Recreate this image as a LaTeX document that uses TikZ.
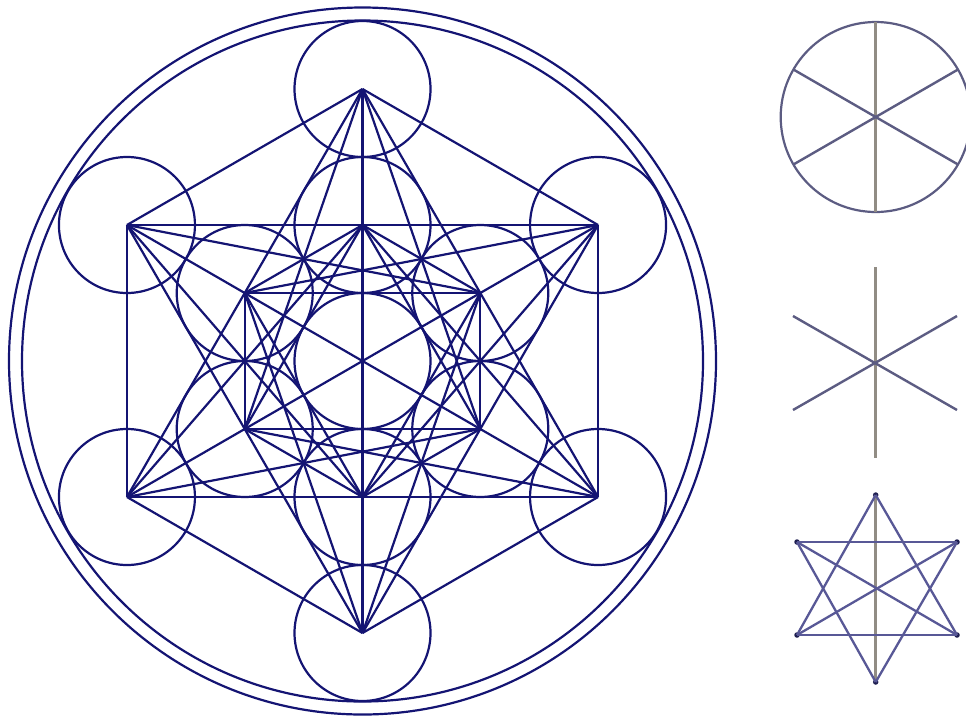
\documentclass[tikz,border=0pt]{standalone}
\usetikzlibrary{calc}
\definecolor{cubeblue}{RGB}{20,20,115}
\definecolor{spokegrey}{RGB}{145,140,132}
\definecolor{spokeblue}{RGB}{92,92,130}
\definecolor{starblue}{RGB}{88,88,150}
\definecolor{stardot}{RGB}{30,30,80}
\tikzset{
  cubeline/.style={draw=cubeblue,line width=2.2pt},
  ringnode/.style={circle,draw=cubeblue,line width=2.2pt,inner sep=0pt,outer sep=0pt,minimum size=#1},
  sidering/.style={circle,draw=spokeblue,line width=2.2pt,inner sep=0pt,outer sep=0pt,minimum size=190pt},
  greyspoke/.style={draw=spokegrey,line width=2.6pt},
  bluespoke/.style={draw=spokeblue,line width=2.4pt},
  starline/.style={draw=starblue,line width=2.3pt},
  vertexdot/.style={circle,fill=stardot,inner sep=0pt,minimum size=5.5pt}
}
\begin{document}
\begin{tikzpicture}[x=1pt,y=-1pt]
\useasboundingbox (0,0) rectangle (966,716);
\clip (0,0) rectangle (966,716);
% large cube: centre, enclosing rings
\coordinate (c) at (362.5,361);
\node[ringnode=707pt] (ringA) at (c) {};
\node[ringnode=681pt] (ringB) at (c) {};
% thirteen spheres
\node[ringnode=136pt] (n0) at (c) {};
\foreach \i in {1,...,6}{
  \pgfmathsetmacro{\ang}{90-60*(\i-1)}
  \node[ringnode=136pt] (n\i) at ($(c)+(\ang:136 and -136)$) {};
  \pgfmathtruncatemacro{\j}{\i+6}
  \node[ringnode=136pt] (n\j) at ($(c)+(\ang:272 and -272)$) {};
}
% every centre is joined to every other centre; each straight line drawn once
\foreach \a/\b in {7/10,8/11,9/12,
  7/8,8/9,9/10,10/11,11/12,12/7,
  7/9,8/10,9/11,10/12,11/7,12/8,
  1/2,2/3,3/4,4/5,5/6,6/1,
  1/3,2/4,3/5,4/6,5/1,6/2,
  7/3,7/5,8/4,8/6,9/5,9/1,10/6,10/2,11/1,11/3,12/2,12/4}{
  \draw[cubeline] (n\a.center) -- (n\b.center);
}
% top right: circle with spokes
\coordinate (p0) at (875.7,117);
\node[sidering] (wheel) at (p0) {};
\coordinate (p1) at (875.7,22);
\coordinate (p2) at (875.7,212);
\coordinate (p3) at (793.4,69.5);
\coordinate (p4) at (958,164.5);
\coordinate (p5) at (958,69.5);
\coordinate (p6) at (793.4,164.5);
\draw[greyspoke] (p1) -- (p2);
\draw[bluespoke] (p3) -- (p4);
\draw[bluespoke] (p5) -- (p6);
% middle right: six rays
\coordinate (q1) at (875.7,267);
\coordinate (q2) at (875.7,458);
\coordinate (q3) at (793,316);
\coordinate (q4) at (957,410);
\coordinate (q5) at (957,316);
\coordinate (q6) at (793,410);
\draw[greyspoke] (q1) -- (q2);
\draw[bluespoke] (q3) -- (q4);
\draw[bluespoke] (q5) -- (q6);
% bottom right: star
\node[vertexdot] (s1) at (875.7,495) {};
\node[vertexdot] (s2) at (875.7,682) {};
\node[vertexdot] (s3) at (797,542) {};
\node[vertexdot] (s4) at (957,542) {};
\node[vertexdot] (s5) at (797,635) {};
\node[vertexdot] (s6) at (957,635) {};
\draw[greyspoke] (s1.center) -- (s2.center);
\draw[starline] (s3.center) -- (s6.center);
\draw[starline] (s4.center) -- (s5.center);
\draw[starline] (s3.center) -- (s4.center);
\draw[starline] (s5.center) -- (s6.center);
\draw[starline] (s1.center) -- (s5.center);
\draw[starline] (s1.center) -- (s6.center);
\draw[starline] (s2.center) -- (s3.center);
\draw[starline] (s2.center) -- (s4.center);
\end{tikzpicture}
\end{document}
